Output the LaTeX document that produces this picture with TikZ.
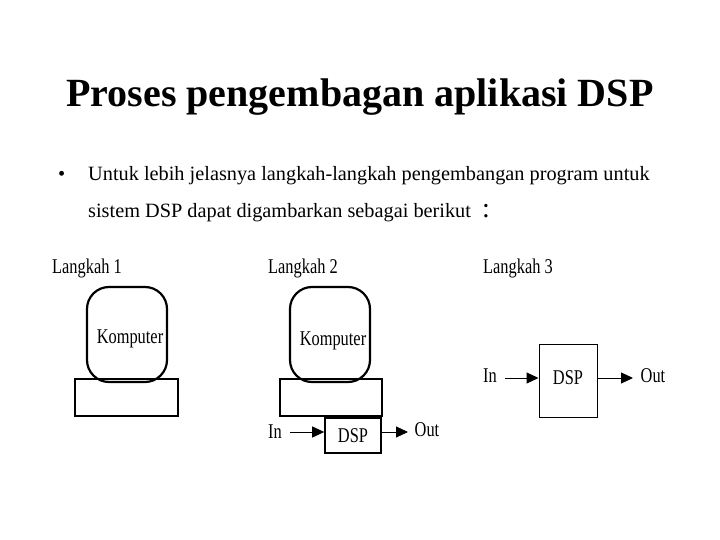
\documentclass[tikz,border=0pt]{standalone}
\usepackage{fontspec}
\setmainfont{Liberation Serif}
\usetikzlibrary{arrows.meta}
\begin{document}
\begin{tikzpicture}[x=1pt,y=-1pt,
 lbl/.style={font=\fontsize{21}{21}\selectfont,xscale=0.78,inner sep=0},
 thick box/.style={draw,line width=1.6pt},
 arr/.style={-{Triangle[length=12pt,width=11pt]},line width=1pt}]
\useasboundingbox (0,0) rectangle (720,540);
\node[font=\bfseries\fontsize{40}{40}\selectfont] (title) at (360,97) {Proses pengembagan aplikasi DSP};
\node[font=\fontsize{20.3}{20}\selectfont,anchor=base west,inner sep=0] (b) at (58,181) {•};
\node[font=\fontsize{20.3}{20}\selectfont,anchor=base west,inner sep=0] (l1) at (88,181) {Untuk lebih jelasnya langkah-langkah pengembangan program untuk};
\node[font=\fontsize{20.3}{20}\selectfont,anchor=base west,inner sep=0] (l2) at (88,218) {sistem DSP dapat digambarkan sebagai berikut};
\node[font=\fontsize{28}{28}\selectfont,anchor=base west,inner sep=0] (colon) at (482,218) {:};
% step 1
\node[lbl,anchor=west] (s1) at (52,268) {Langkah 1};
\draw[line width=2.2pt,rounded corners=22pt] (87,287) rectangle (167,382);
\node[lbl] (k1) at (130,339) {Komputer};
\draw[thick box] (75,379) rectangle (178,416);
% step 2
\node[lbl,anchor=west] (s2) at (268,268) {Langkah 2};
\draw[line width=2.2pt,rounded corners=22pt] (290,287) rectangle (370,382);
\node[lbl] (k2) at (333,341) {Komputer};
\draw[thick box] (280,379) rectangle (382,416);
\node[thick box,minimum width=56pt,minimum height=35pt,inner sep=0] (d2) at (353,435.5) {};
\node[lbl] at (d2) {DSP};
\node[lbl] (in2) at (275,432) {In};
\node[lbl] (out2) at (427,430) {Out};
\draw[arr] (290,432) -- (d2.west|-0,432);
\draw[arr] (d2.east|-0,432) -- (408,432);
% step 3
\node[lbl,anchor=west] (s3) at (483,268) {Langkah 3};
\node[draw,line width=1pt,minimum width=58pt,minimum height=73pt,inner sep=0] (d3) at (568,380.5) {};
\node[lbl] at (568,378) {DSP};
\node[lbl] (in3) at (490,376) {In};
\node[lbl] (out3) at (653,376) {Out};
\draw[arr] (505,378) -- (d3.west|-0,378);
\draw[arr] (d3.east|-0,378) -- (633,378);
\end{tikzpicture}
\end{document}
